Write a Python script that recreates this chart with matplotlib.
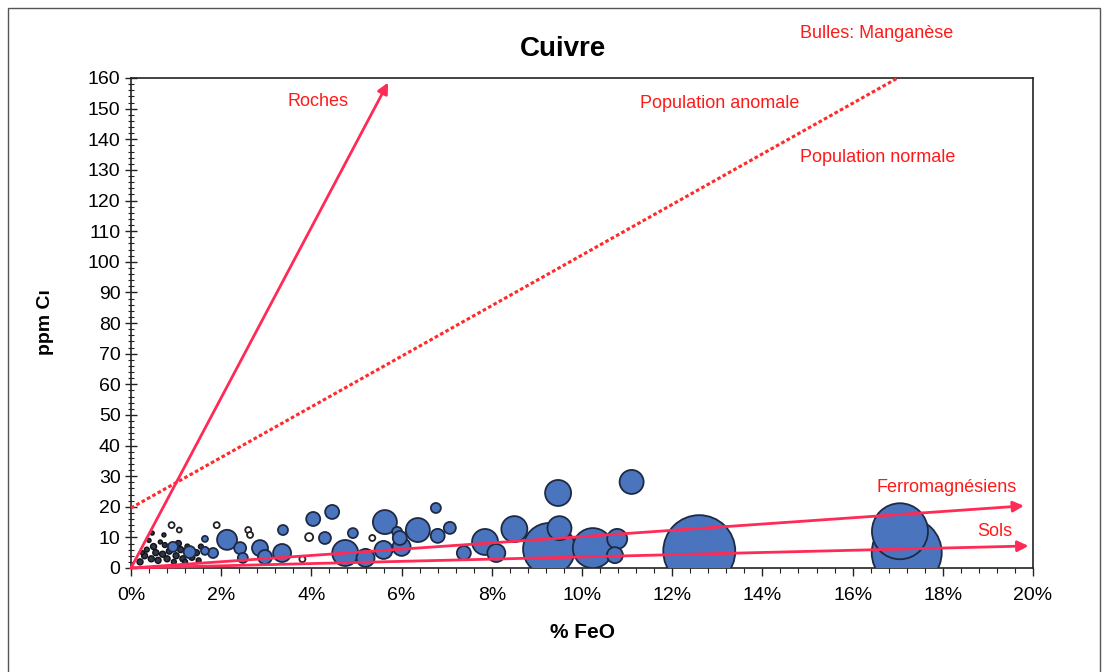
import matplotlib
matplotlib.use("Agg")
import matplotlib.pyplot as plt
import matplotlib.patches as mpatches
from matplotlib.ticker import MultipleLocator, FuncFormatter
import numpy as np

plt.rcParams['font.family'] = ['Liberation Sans', 'DejaVu Sans']

# ---------------- data ----------------
# blue bubbles: FeO (%), Cu (ppm), Mn (bubble area, arbitrary units)
blue_feo = [17.2, 17.05, 12.6, 9.27, 10.24, 9.47, 11.1, 8.5, 9.5, 10.78, 10.73,
            5.63, 6.36, 6.76, 7.07, 6.8, 5.6, 6.0, 5.9, 5.96, 7.85, 8.1, 7.38,
            4.04, 4.46, 3.37, 4.3, 4.92, 4.75, 5.2, 2.86, 3.35, 2.97, 2.13,
            1.3, 0.93, 2.42, 1.82, 1.64, 2.48, 1.64]
blue_cu = [5.0, 12.0, 5.5, 6.2, 6.5, 24.5, 28.1, 12.7, 13.0, 9.5, 4.2,
           15.0, 12.4, 19.6, 13.1, 10.5, 5.9, 6.9, 11.8, 9.8, 8.5, 4.9, 4.9,
           16.0, 18.3, 12.4, 9.8, 11.4, 4.9, 3.3, 6.5, 4.9, 3.6, 9.2,
           5.2, 6.9, 6.5, 4.9, 5.6, 3.3, 9.5]
blue_mn = [1225, 784, 1296, 676, 400, 169, 144, 169, 144, 100, 64,
           144, 144, 25, 36, 49, 81, 81, 25, 49, 169, 81, 49,
           49, 49, 25, 36, 25, 169, 81, 64, 81, 49, 100,
           36, 25, 36, 25, 16, 25, 9]

# hollow (white) bubbles
hollow_feo = [5.35, 3.95, 3.8, 1.9, 0.9, 2.6, 2.64, 1.07]
hollow_cu = [9.8, 10.1, 2.9, 14.0, 14.0, 12.4, 10.8, 12.4]
hollow_mn = [9, 16, 9, 9, 9, 9, 9, 6]

# small dark bubbles near origin
dark_feo = [0.2, 0.3, 0.35, 0.45, 0.5, 0.55, 0.6, 0.7, 0.75, 0.8, 0.85, 0.95,
            1.0, 1.05, 1.1, 1.15, 1.2, 1.25, 1.35, 1.45, 1.5, 0.25, 0.65, 0.4,
            1.55, 0.47, 0.73]
dark_cu = [2.0, 4.0, 6.0, 3.0, 7.0, 5.0, 2.5, 4.5, 7.5, 3.0, 5.5, 2.0,
           4.0, 8.0, 6.0, 3.0, 2.0, 7.0, 3.5, 5.0, 2.5, 5.0, 8.5, 9.0,
           7.0, 11.4, 10.8]
dark_mn = [9, 9, 6, 9, 9, 9, 9, 9, 6, 9, 9, 6,
           9, 9, 9, 9, 6, 6, 9, 9, 6, 4, 4, 4,
           6, 4, 4]

# trend lines (start -> end, in data units)
roches = [(0.0, 0.0), (5.7, 158.5)]
ferro = [(0.0, 0.0), (19.8, 20.3)]
sols = [(0.0, 0.0), (19.9, 7.2)]
separation = [(0.0, 19.6), (17.0, 160.0)]

x_ticks = [0, 2, 4, 6, 8, 10, 12, 14, 16, 18, 20]
y_ticks = list(range(0, 161, 10))

# ---------------- figure ----------------
W, H = 1112, 672
fig = plt.figure(figsize=(W / 100, H / 100), dpi=100)
fig.patch.set_facecolor('white')

def fx(px):
    return px / W

def fy(py):
    return 1 - py / H

ax = fig.add_axes([fx(131), fy(568), fx(1033) - fx(131), fy(78) - fy(568)])
ax.set_xlim(0, 20)
ax.set_ylim(0, 160)

# outer frame
fig.patches.append(mpatches.Rectangle((fx(8), fy(700)), fx(1100) - fx(8), fy(8) - fy(700),
                                      transform=fig.transFigure, fill=False,
                                      edgecolor='#555555', linewidth=1.0))

# pixels -> points^2
k = (2 * 0.72) ** 2

ax.scatter(dark_feo, dark_cu, s=np.array(dark_mn) * k, facecolor='#2b3550',
           edgecolor='#111111', linewidth=1.0, zorder=3)
ax.scatter(blue_feo, blue_cu, s=np.array(blue_mn) * k, facecolor='#4a74bd',
           edgecolor='#1e2a44', linewidth=1.3, zorder=3)
ax.scatter(hollow_feo, hollow_cu, s=np.array(hollow_mn) * k, facecolor='white',
           edgecolor='#222222', linewidth=1.3, zorder=3)

line_col = '#ff2a55'
for seg in (roches, ferro, sols):
    ax.annotate('', xy=seg[1], xytext=seg[0],
                arrowprops=dict(arrowstyle='-|>', color=line_col, lw=2.0,
                                mutation_scale=16, shrinkA=0, shrinkB=0),
                annotation_clip=False, zorder=5)

ax.plot([separation[0][0], separation[1][0]], [separation[0][1], separation[1][1]],
        linestyle=(0, (1.2, 0.8)), color='#ff2a2a', lw=2.2, zorder=4, clip_on=False)

# axes styling
ax.xaxis.set_major_locator(MultipleLocator(2))
ax.xaxis.set_minor_locator(MultipleLocator(0.4))
ax.yaxis.set_major_locator(MultipleLocator(10))
ax.yaxis.set_minor_locator(MultipleLocator(2))
ax.set_xticks(x_ticks)
ax.set_yticks(y_ticks)
ax.xaxis.set_major_formatter(FuncFormatter(lambda v, p: f"{v:.0f}%"))
ax.tick_params(axis='both', which='major', labelsize=14, length=6, width=1,
               color='#222222', direction='out')
ax.tick_params(axis='x', which='major', pad=8)
ax.tick_params(axis='y', which='major', direction='inout', length=9, pad=3)
ax.tick_params(axis='both', which='minor', length=3.5, width=0.8, color='#222222',
               direction='out')
ax.tick_params(axis='y', which='minor', direction='inout', length=5)
for sp in ax.spines.values():
    sp.set_color('#222222')
    sp.set_linewidth(1.2)

# texts
red = '#ff1a1a'
fig.text(fx(563), fy(49), 'Cuivre', ha='center', va='center', fontsize=20, fontweight='bold')
fig.text(fx(877), fy(34), 'Bulles: Manganèse', ha='center', va='center', fontsize=13, color=red)
fig.text(fx(318), fy(101), 'Roches', ha='center', va='center', fontsize=13, color=red)
fig.text(fx(720), fy(103), 'Population anomale', ha='center', va='center', fontsize=13, color=red)
fig.text(fx(878), fy(158), 'Population normale', ha='center', va='center', fontsize=13, color=red)
fig.text(fx(947), fy(487), 'Ferromagnésiens', ha='center', va='center', fontsize=13, color=red)
fig.text(fx(995), fy(531), 'Sols', ha='center', va='center', fontsize=13, color=red)
fig.text(fx(583), fy(633), '% FeO', ha='center', va='center', fontsize=15, fontweight='bold')
fig.text(fx(45), fy(322), 'ppm Cı', ha='center', va='center', fontsize=14,
         fontweight='bold', rotation=90)

fig.savefig('out.png', dpi=100)
